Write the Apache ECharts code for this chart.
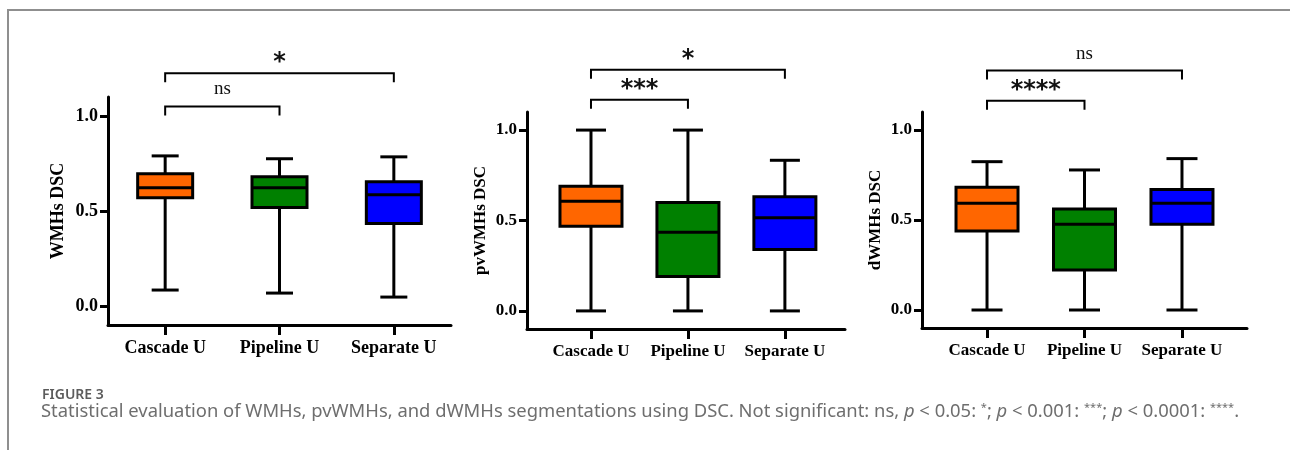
<!DOCTYPE html>
<html>
<head>
<meta charset="utf-8">
<title>Figure 3 - DSC box plots</title>
<script src="https://cdn.jsdelivr.net/npm/echarts@6/dist/echarts.min.js"></script>
<style>
    html, body { margin: 0; padding: 0; background: #fff; }
    #frame {
        position: absolute; left: 7px; top: 9px; width: 1300px; height: 460px;
        border-top: 2px solid #8f8f8f; border-left: 2px solid #8f8f8f;
    }
    #chart { position: absolute; left: 0; top: 0; width: 1290px; height: 450px; }
</style>
</head>
<body>
<div id="frame"></div>
<div id="chart"></div>
<script>
// groups on the x axis
const groups = ['Cascade U', 'Pipeline U', 'Separate U'];
const groupColors = ['#ff6600', '#008000', '#0000ff'];

// box values per group: [min, Q1, median, Q3, max]
const wmhsDSC = [
    [0.084, 0.570, 0.623, 0.696, 0.790],
    [0.068, 0.518, 0.623, 0.680, 0.775],
    [0.047, 0.434, 0.586, 0.654, 0.785]
];
const pvwmhsDSC = [
    [0.000, 0.468, 0.607, 0.690, 1.000],
    [0.000, 0.190, 0.435, 0.600, 1.000],
    [0.000, 0.339, 0.515, 0.632, 0.833]
];
const dwmhsDSC = [
    [0.000, 0.439, 0.593, 0.682, 0.824],
    [0.000, 0.222, 0.476, 0.561, 0.778],
    [0.000, 0.476, 0.593, 0.670, 0.841]
];

const yTicks = [0, 0.5, 1.0];

// significance comparisons: [groupA, groupB, label]
const wmhsSig = [[0, 1, 'ns'], [0, 2, '*']];
const pvwmhsSig = [[0, 1, '***'], [0, 2, '*']];
const dwmhsSig = [[0, 1, '****'], [0, 2, 'ns']];

const caption = 'Statistical evaluation of WMHs, pvWMHs, and dWMHs segmentations using DSC. Not significant: ns, ';

// layout of the three panels
const panels = [
    { name: 'WMHs DSC', data: wmhsDSC, sig: wmhsSig, left: 108, right: 451, top: 97, bottom: 325,
      xMin: 0.5, xMax: 3.5, box: 55, cap: 27, font: 18, nameGap: 41, bracketY: [1.05, 1.225] },
    { name: 'pvWMHs DSC', data: pvwmhsDSC, sig: pvwmhsSig, left: 527, right: 845, top: 112, bottom: 329,
      xMin: 0.34, xMax: 3.62, box: 62, cap: 30, font: 17, nameGap: 38, bracketY: [1.168, 1.333] },
    { name: 'dWMHs DSC', data: dwmhsDSC, sig: dwmhsSig, left: 922, right: 1247, top: 112, bottom: 328,
      xMin: 0.333, xMax: 3.667, box: 62, cap: 31, font: 17, nameGap: 38, bracketY: [1.162, 1.33] }
];

const serif = 'Liberation Serif';
const black = '#000';

const chart = echarts.init(document.getElementById('chart'), null, { renderer: 'canvas' });

const grids = [], xAxes = [], yAxes = [], series = [];

panels.forEach((p, i) => {
    grids.push({ left: p.left, top: p.top, width: p.right - p.left, height: p.bottom - p.top });

    xAxes.push({
        type: 'value', gridIndex: i, min: p.xMin, max: p.xMax,
        axisLine: { show: true, onZero: false, lineStyle: { color: black, width: 3 } },
        axisTick: { show: true, customValues: [1, 2, 3], length: 10, lineStyle: { color: black, width: 3 } },
        axisLabel: {
            customValues: [1, 2, 3], margin: 14,
            formatter: v => groups[Math.round(v) - 1],
            color: black, fontFamily: serif, fontWeight: 'bold', fontSize: p.font
        },
        splitLine: { show: false }
    });

    yAxes.push({
        type: 'value', gridIndex: i, min: -0.1, max: 1.1,
        name: p.name, nameLocation: 'middle', nameGap: p.nameGap,
        nameTextStyle: { color: black, fontFamily: serif, fontWeight: 'bold', fontSize: p.font },
        axisLine: { show: true, lineStyle: { color: black, width: 3 } },
        axisTick: { show: true, customValues: yTicks, length: 8, lineStyle: { color: black, width: 3 } },
        axisLabel: {
            customValues: yTicks, margin: 10,
            formatter: v => v.toFixed(1),
            color: black, fontFamily: serif, fontWeight: 'bold', fontSize: p.font
        },
        splitLine: { show: false }
    });

    // box and whisker marks
    series.push({
        type: 'custom', xAxisIndex: i, yAxisIndex: i,
        encode: { x: 0, y: [1, 2, 3, 4, 5] },
        data: p.data.map((d, k) => ({ value: [k + 1].concat(d), itemStyle: { color: groupColors[k] } })),
        renderItem: (params, api) => {
            const x = api.value(0);
            const pMin = api.coord([x, api.value(1)]);
            const pQ1 = api.coord([x, api.value(2)]);
            const pMed = api.coord([x, api.value(3)]);
            const pQ3 = api.coord([x, api.value(4)]);
            const pMax = api.coord([x, api.value(5)]);
            const cx = pMin[0], hb = p.box / 2, hc = p.cap / 2;
            const stroke = { stroke: black, lineWidth: 3 };
            return {
                type: 'group',
                children: [
                    { type: 'line', shape: { x1: cx, y1: pMax[1], x2: cx, y2: pMin[1] }, style: stroke },
                    { type: 'line', shape: { x1: cx - hc, y1: pMax[1], x2: cx + hc, y2: pMax[1] }, style: stroke },
                    { type: 'line', shape: { x1: cx - hc, y1: pMin[1], x2: cx + hc, y2: pMin[1] }, style: stroke },
                    { type: 'rect', shape: { x: cx - hb, y: pQ3[1], width: hb * 2, height: pQ1[1] - pQ3[1] },
                      style: { fill: api.visual('color'), stroke: black, lineWidth: 3 } },
                    { type: 'line', shape: { x1: cx - hb, y1: pMed[1], x2: cx + hb, y2: pMed[1] }, style: stroke }
                ]
            };
        },
        silent: true, z: 3
    });

    // significance brackets above the boxes
    series.push({
        type: 'custom', xAxisIndex: i, yAxisIndex: i, clip: false,
        data: p.sig.map((s, k) => [s[0] + 1, s[1] + 1, p.bracketY[k]]),
        encode: { x: [0, 1], y: 2 },
        renderItem: (params, api) => {
            const a = api.coord([api.value(0), api.value(2)]);
            const b = api.coord([api.value(1), api.value(2)]);
            const label = p.sig[params.dataIndex][2];
            const isStar = label.indexOf('*') >= 0;
            const drop = 9;
            return {
                type: 'group',
                children: [
                    { type: 'polyline',
                      shape: { points: [[a[0], a[1] + drop], [a[0], a[1]], [b[0], b[1]], [b[0], b[1] + drop]] },
                      style: { stroke: black, lineWidth: 2, fill: null } },
                    { type: 'text',
                      x: (a[0] + b[0]) / 2, y: a[1] - (isStar ? 10 : 17),
                      style: {
                          text: label, align: 'center', verticalAlign: 'middle', fill: '#111',
                          font: isStar ? 'bold 24px "DejaVu Sans"' : '19px "Liberation Serif"'
                      } }
                ]
            };
        },
        silent: true, z: 4
    });
});

const capStyle = { fontFamily: 'Noto Sans', fontSize: 18.4, fontWeight: 'normal', color: '#6e6e6e', lineHeight: 20 };

chart.setOption({
    backgroundColor: 'transparent',
    animation: false,
    title: [
        {
            text: 'FIGURE 3', left: 37, top: 383,
            textStyle: { fontFamily: 'Noto Sans', fontSize: 14, fontWeight: 600, color: '#5c5c5c' }
        },
        {
            text: '{t|' + caption + '}{i|p}{t| < 0.05: }{s|*}{t|; }{i|p}{t| < 0.001: }{s|***}{t|; }' +
                  '{i|p}{t| < 0.0001: }{s|****}{t|.}',
            left: 36, top: 397,
            textStyle: {
                fontWeight: 'normal',
                rich: {
                    t: capStyle,
                    i: Object.assign({}, capStyle, { fontStyle: 'italic' }),
                    s: Object.assign({}, capStyle, { fontSize: 11, verticalAlign: 'top', lineHeight: 20 })
                }
            }
        }
    ],
    grid: grids,
    xAxis: xAxes,
    yAxis: yAxes,
    series: series
});

window.addEventListener('resize', () => chart.resize());
</script>
</body>
</html>
